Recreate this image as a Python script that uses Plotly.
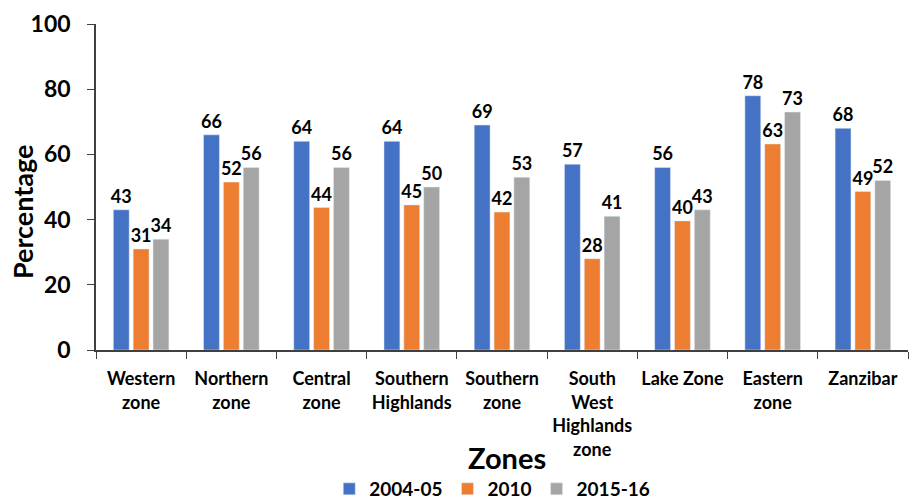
import plotly.graph_objects as go

zones = ["Western<br>zone", "Northern<br>zone", "Central<br>zone", "Southern<br>Highlands",
         "Southern<br>zone", "South<br>West<br>Highlands<br>zone", "Lake Zone", "Eastern<br>zone", "Zanzibar"]
series_names = ["2004-05", "2010", "2015-16"]
v2004 = [43, 66, 64, 64, 69, 57, 56, 78, 68]
v2010 = [31, 51.5, 43.7, 44.5, 42.3, 28, 39.6, 63.2, 48.6]
v2015 = [34, 56, 56, 50, 53, 41, 43, 73, 52]
colors = ["#4472C4", "#ED7D31", "#A5A5A5"]

FONT = "Lato"
fig = go.Figure()
for name, vals, c in zip(series_names, [v2004, v2010, v2015], colors):
    fig.add_trace(go.Bar(
        x=zones, y=vals, name=name, marker_color=c,
        text=[str(int(v + 0.5)) for v in vals], textposition="outside",
        textfont=dict(family=FONT, size=18, color="black", weight="bold"),
        constraintext="none", cliponaxis=False,
    ))

fig.update_layout(
    width=909, height=499,
    margin=dict(l=96, r=1, t=24, b=149, autoexpand=False),
    plot_bgcolor="white", paper_bgcolor="white",
    barmode="group", bargap=0.34, bargroupgap=0.2,
    font=dict(family=FONT, color="black"),
    showlegend=True,
    legend=dict(orientation="h", x=0.488, xanchor="center", yref="container",
                y=1 - 489 / 499, yanchor="middle",
                font=dict(family=FONT, size=19, color="black", weight="bold"),
                itemwidth=30, traceorder="normal", tracegroupgap=0),
)
fig.update_xaxes(
    type="category", tickson="boundaries", ticks="outside", ticklen=7,
    tickcolor="#404040", showline=True, linecolor="#404040", linewidth=1.5,
    tickfont=dict(family=FONT, size=18, color="black", weight="bold"),
    tickangle=0, showgrid=False, automargin=False, ticklabelstandoff=12,
)
fig.update_yaxes(
    range=[0, 100], tickvals=[0, 20, 40, 60, 80, 100], ticks="outside", ticklen=7,
    tickcolor="#404040", showline=True, linecolor="#404040", linewidth=1.5,
    tickfont=dict(family=FONT, size=23, color="black", weight="bold"),
    showgrid=False, zeroline=False, ticklabelstandoff=12, automargin=False,
)
fig.add_annotation(text="Percentage", x=-0.091, y=(350 - 212) / 326, xref="paper", yref="paper",
                   textangle=-90, showarrow=False, xanchor="center", yanchor="middle",
                   font=dict(family=FONT, size=27, color="black", weight="bold"))
fig.add_annotation(text="Zones", x=(507 - 96) / 812, y=(350 - 458) / 326, xref="paper", yref="paper",
                   showarrow=False, xanchor="center", yanchor="middle", borderpad=0,
                   font=dict(family=FONT, size=29, color="black", weight="bold"))
fig.write_html("out.html")
